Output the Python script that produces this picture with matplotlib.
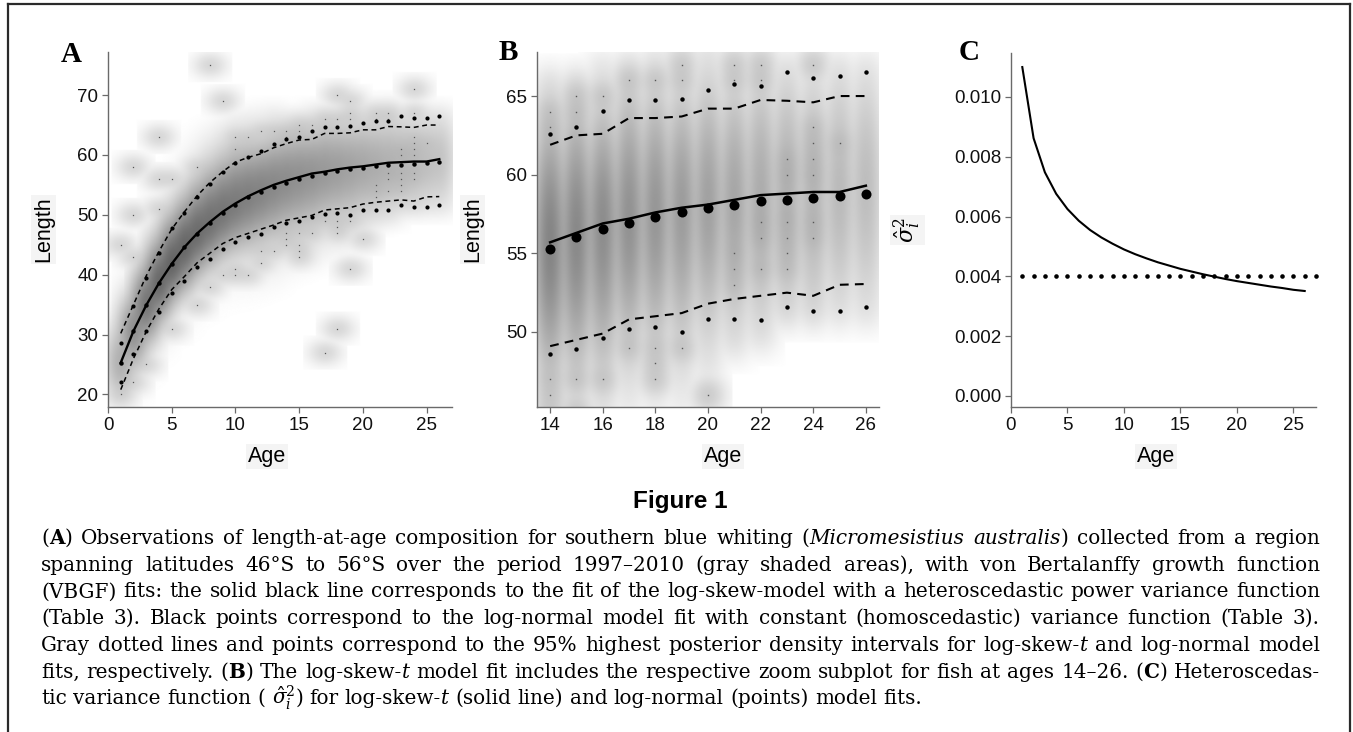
import re
import numpy as np
import matplotlib
matplotlib.use("Agg")
import matplotlib.pyplot as plt
from matplotlib.lines import Line2D

plt.rcParams['font.family'] = ['Liberation Sans', 'DejaVu Sans']
plt.rcParams['mathtext.fontset'] = 'dejavuserif'

# ---------------- data ----------------
ages = list(range(1, 27))
skewt_fit = [25.3, 30.6, 34.9, 38.6, 41.8, 44.6, 46.9, 48.8, 50.5, 51.9, 53.1, 54.1, 55.0,
             55.7, 56.3, 56.9, 57.2, 57.6, 57.9, 58.1, 58.4, 58.7, 58.8, 58.9, 58.9, 59.3]
skewt_lower = [20.8, 26.0, 30.5, 34.3, 37.5, 39.7, 42.0, 43.6, 45.2, 46.2, 46.9, 47.6, 48.3,
               49.1, 49.5, 49.9, 50.8, 51.0, 51.2, 51.8, 52.1, 52.3, 52.5, 52.3, 53.0, 53.05]
skewt_upper = [30.2, 35.0, 39.8, 43.9, 47.6, 50.5, 53.2, 55.4, 57.2, 58.8, 59.6, 60.2, 61.2,
               61.9, 62.5, 62.6, 63.6, 63.6, 63.7, 64.2, 64.2, 64.75, 64.7, 64.6, 65.0, 65.0]
lognorm_fit = [25.3, 30.6, 34.9, 38.6, 41.8, 44.6, 46.8, 48.7, 50.3, 51.7, 52.9, 53.8, 54.7,
               55.3, 56.05, 56.55, 56.95, 57.3, 57.6, 57.9, 58.1, 58.3, 58.4, 58.5, 58.65, 58.8]
lognorm_lower = [22.1, 26.7, 30.6, 33.7, 36.9, 38.9, 41.3, 42.7, 44.3, 45.4, 46.3, 46.8, 48.0,
                 48.6, 48.9, 49.6, 50.2, 50.3, 50.0, 50.8, 50.8, 50.75, 51.6, 51.35, 51.35, 51.6]
lognorm_upper = [28.6, 34.7, 39.5, 43.6, 47.8, 50.3, 52.9, 55.2, 57.1, 58.6, 59.7, 60.6, 61.9,
                 62.6, 63.05, 64.05, 64.75, 64.75, 64.8, 65.4, 65.75, 65.65, 66.55, 66.15, 66.25, 66.55]
fish_per_age = [50, 180, 420, 620, 700, 680, 600, 540, 480, 420, 370, 320, 280,
                240, 210, 180, 150, 125, 100, 80, 62, 48, 38, 30, 22, 18]
obs_min = [18, 20, 22, 25, 27, 29, 31, 33, 34, 35, 36, 37, 38,
           40, 41, 42, 43, 44, 45, 47, 49, 49.5, 51, 51, 51, 51]
obs_max = [40, 46, 51, 55, 58, 61, 63, 64, 65, 66, 66.5, 67, 67,
           66, 66, 67, 67, 67.5, 68, 68, 68, 68, 67, 67, 67, 67]

# isolated observations (drawn as tiny dots by the smoothed scatter)
outlier_age = [1, 1, 2, 2, 2, 2, 3, 4, 4, 4, 5, 5, 7, 7, 8, 8, 9, 9, 10, 10, 10, 10, 11, 11, 12, 12, 12, 13, 13,
               14, 14, 14, 14, 14, 15, 15, 15, 15, 15, 15, 16, 16, 17, 17, 17, 18, 18, 18, 18, 18, 18,
               19, 19, 19, 19, 19, 20, 21, 21, 21, 21, 21, 22, 22, 22, 22, 22, 23, 23, 23, 23, 23, 23,
               24, 24, 24, 24, 24, 24, 24, 24, 25]
outlier_length = [20, 45, 22, 43, 50, 58, 25, 51, 56, 63, 31, 56, 35, 58, 38, 75, 40, 69, 40, 41, 61, 63, 40, 63, 42, 44, 64, 44, 64,
                  45, 46, 47, 63, 64, 43, 44, 45, 47, 64, 65, 47, 65, 27, 49, 66, 31, 47, 48, 49, 66, 70,
                  41, 49, 66, 67, 69, 46, 53, 54, 55, 66, 67, 54, 56, 57, 66, 67, 54, 55, 56, 57, 60, 61,
                  56, 57, 60, 61, 62, 63, 67, 71, 62]

var_ages = list(range(1, 27))
var_skewt = [0.01100, 0.00862, 0.00748, 0.00676, 0.00625, 0.00586, 0.00555, 0.00530, 0.00509,
             0.00490, 0.00474, 0.00460, 0.00447, 0.00436, 0.00425, 0.00416, 0.00407, 0.00399,
             0.00391, 0.00384, 0.00378, 0.00372, 0.00366, 0.00361, 0.00355, 0.00351]
var_ln_ages = list(range(1, 28))
var_lognorm = [0.004] * 27

caption_lines = [
    "(«b|A») Observations of length-at-age composition for southern blue whiting («i|Micromesistius» «i|australis») collected from a region",
    "spanning latitudes 46°S to 56°S over the period 1997–2010 (gray shaded areas), with von Bertalanffy growth function",
    "(VBGF) fits: the solid black line corresponds to the fit of the log-skew-model with a heteroscedastic power variance function",
    "(Table 3). Black points correspond to the log-normal model fit with constant (homoscedastic) variance function (Table 3).",
    "Gray dotted lines and points correspond to the 95% highest posterior density intervals for log-skew-«i|t» and log-normal model",
    "fits, respectively. («b|B») The log-skew-«i|t» model fit includes the respective zoom subplot for fish at ages 14–26. («b|C») Heteroscedas-",
    "tic variance function ( «m|$\\hat{\\sigma}_i^2$») for log-skew-«i|t» (solid line) and log-normal (points) model fits.",
]

# ---------------- figure ----------------
W, H = 1353, 732
fig = plt.figure(figsize=(W / 100, H / 100), dpi=100)
fig.patch.set_facecolor('white')


def rect(l, r, t, b):
    return [l / W, 1 - b / H, (r - l) / W, (b - t) / H]


axA = fig.add_axes(rect(108, 452, 52, 407))
axB = fig.add_axes(rect(537, 879, 52, 407))
axC = fig.add_axes(rect(1011, 1316, 53, 407))


def style(ax):
    for s in ['top', 'right']:
        ax.spines[s].set_visible(False)
    for s in ['left', 'bottom']:
        ax.spines[s].set_color('#6a6a6a')
        ax.spines[s].set_linewidth(1.0)
    ax.tick_params(direction='out', length=4.1, width=0.9, color='#6a6a6a',
                   labelsize=13.5, pad=3, labelcolor='#111111')


def kern(s, d):
    h = int(np.ceil(3.4 * s / d))
    u = np.arange(-h, h + 1) * d
    k = np.exp(-0.5 * (u / s) ** 2)
    return k / k.sum()


def shade(ax, sel, sx, sy, x0, x1, y0, y1, dx, dy, dark):
    xg = np.arange(x0, x1 + dx / 2, dx)
    yg = np.arange(y0, y1 + dy / 2, dy)
    D = np.zeros((yg.size, xg.size))
    for a, n, c, lo, hi, mn, mx in zip(ages, fish_per_age, skewt_fit, skewt_lower,
                                       skewt_upper, obs_min, obs_max):
        if a not in sel:
            continue
        s_lo = (c - lo) / 1.96
        s_hi = (hi - c) / 1.96
        z = np.where(yg < c, (yg - c) / s_lo, (yg - c) / s_hi)
        f = np.exp(-0.5 * z * z)
        f[(yg < mn) | (yg > mx)] = 0
        f = n * f / f.sum()
        D[:, np.argmin(np.abs(xg - a))] += f
    for a, L in zip(outlier_age, outlier_length):
        if a not in sel:
            continue
        D[np.argmin(np.abs(yg - L)), np.argmin(np.abs(xg - a))] += 1
    ky = kern(sy, dy)
    kx = kern(sx, dx)
    D = np.apply_along_axis(lambda m: np.convolve(m, ky, mode='same'), 0, D)
    D = np.apply_along_axis(lambda m: np.convolve(m, kx, mode='same'), 1, D)
    D = np.clip(D, 0, None)
    G = 1 - dark * (D / D.max()) ** 0.25
    ax.imshow(G, cmap='gray', vmin=0, vmax=1, origin='lower',
              extent=[x0 - dx / 2, x1 + dx / 2, y0 - dy / 2, y1 + dy / 2],
              aspect='auto', interpolation='bilinear', zorder=0)


lab_box = dict(facecolor='#f4f4f4', edgecolor='none', pad=1.5)
label_top = 446   # pixel row of the top of the "Age" labels

# ---- Panel A ----
style(axA)
shade(axA, ages, 0.5, 0.8, -1, 28, 14, 80, 0.05, 0.1, 0.6)
axA.plot(outlier_age, outlier_length, 's', color='#555555', ms=0.9, mew=0, zorder=1)
axA.plot(ages, skewt_fit, '-', color='black', lw=1.7, zorder=3)
axA.plot(ages, skewt_upper, '--', color='black', lw=1.1, dashes=(3.2, 2.4), zorder=3)
axA.plot(ages, skewt_lower, '--', color='black', lw=1.1, dashes=(3.2, 2.4), zorder=3)
axA.plot(ages, lognorm_fit, 'o', color='black', ms=3.2, mew=0, zorder=4)
axA.plot(ages, lognorm_upper, 'o', color='black', ms=3.0, mew=0, zorder=4)
axA.plot(ages, lognorm_lower, 'o', color='black', ms=3.0, mew=0, zorder=4)
axA.set_xlim(0, 27)
axA.set_ylim(17.9, 77.2)
axA.set_xticks([0, 5, 10, 15, 20, 25])
axA.set_yticks([20, 30, 40, 50, 60, 70])
axA.set_xlabel('Age', fontsize=15.5, bbox=lab_box)
axA.set_ylabel('Length', fontsize=15.5, bbox=lab_box)
axA.xaxis.set_label_coords((267 - 108) / (452 - 108), -(label_top - 407) / (407 - 52))
axA.yaxis.set_label_coords(-(108 - 54) / (452 - 108), 0.5)

# ---- Panel B ----
style(axB)
selB = list(range(14, 27))
shade(axB, selB, 0.27, 0.5, 12.5, 27.5, 43, 70, 0.02, 0.05, 0.48)
axB.plot(outlier_age, outlier_length, 's', color='#555555', ms=1.0, mew=0, zorder=1)
axB.plot(ages[13:], skewt_fit[13:], '-', color='black', lw=1.8, zorder=3)
axB.plot(ages[13:], skewt_upper[13:], '--', color='black', lw=1.5, dashes=(4.2, 3.0), zorder=3)
axB.plot(ages[13:], skewt_lower[13:], '--', color='black', lw=1.5, dashes=(4.2, 3.0), zorder=3)
axB.plot(ages[13:], lognorm_fit[13:], 'o', color='black', ms=7.2, mew=0, zorder=4)
axB.plot(ages[13:], lognorm_upper[13:], 'o', color='black', ms=3.2, mew=0, zorder=4)
axB.plot(ages[13:], lognorm_lower[13:], 'o', color='black', ms=3.2, mew=0, zorder=4)
axB.set_xlim(13.5, 26.5)
axB.set_ylim(45.23, 67.8)
axB.set_xticks([14, 16, 18, 20, 22, 24, 26])
axB.set_yticks([50, 55, 60, 65])
axB.set_xlabel('Age', fontsize=15.5, bbox=lab_box)
axB.set_ylabel('Length', fontsize=15.5, bbox=lab_box)
axB.xaxis.set_label_coords((723 - 537) / (879 - 537), -(label_top - 407) / (407 - 52))
axB.yaxis.set_label_coords(-(537 - 483) / (879 - 537), 0.5)

# ---- Panel C ----
style(axC)
axC.plot(var_ages, var_skewt, '-', color='black', lw=1.5, zorder=3)
axC.plot(var_ln_ages, var_lognorm, 'o', color='black', ms=3.3, mew=0, zorder=4, clip_on=False)
axC.set_xlim(0, 27)
axC.set_ylim(-0.00037, 0.01147)
axC.set_xticks([0, 5, 10, 15, 20, 25])
axC.set_yticks([0.000, 0.002, 0.004, 0.006, 0.008, 0.010])
axC.set_yticklabels(['0.000', '0.002', '0.004', '0.006', '0.008', '0.010'])
axC.set_xlabel('Age', fontsize=15.5, bbox=lab_box)
axC.set_ylabel(r'$\hat{\sigma}_i^2$', fontsize=16, bbox=lab_box)
axC.xaxis.set_label_coords((1156 - 1011) / (1316 - 1011), -(label_top - 407) / (407 - 53))
axC.yaxis.set_label_coords(-(1011 - 923) / (1316 - 1011), 0.5)

# ---- panel letters ----
for letter, xc, yc in [('A', 71.5, 55), ('B', 508, 52), ('C', 969, 53)]:
    fig.text(xc / W, 1 - yc / H, letter, ha='center', va='center', fontsize=21,
             fontweight='bold', family=['Liberation Serif', 'DejaVu Serif'])

# ---- figure title ----
fig.text(680 / W, 1 - 508 / H, 'Figure 1', ha='center', va='baseline', fontsize=17.5,
         fontweight='bold', family=['Liberation Sans', 'DejaVu Sans'])

# ---- caption (justified) ----
renderer = fig.canvas.get_renderer()
tok = re.compile(r'«([bim])\|(.*?)»')
cap_family = ['DejaVu Serif']


def parse_word(w):
    runs = []
    pos = 0
    for m in tok.finditer(w):
        if m.start() > pos:
            runs.append((w[pos:m.start()], 'n'))
        runs.append((m.group(2), m.group(1)))
        pos = m.end()
    if pos < len(w):
        runs.append((w[pos:], 'n'))
    return runs


def make_text(s, kind, size):
    kw = dict(fontsize=size, family=cap_family, va='baseline', ha='left')
    if kind == 'b':
        kw['fontweight'] = 'bold'
    elif kind == 'i':
        kw['fontstyle'] = 'italic'
    return fig.text(0, 0, s, **kw)


def width(t):
    return t.get_window_extent(renderer).width


def layout_line(line, size):
    placed = []
    total = 0.0
    for w in line.split(' '):
        arts = []
        ww = 0.0
        for s, kind in parse_word(w):
            t = make_text(s, kind, size)
            arts.append((t, ww))
            ww += width(t)
        placed.append((arts, ww))
        total += ww
    return placed, total


def space_width(size):
    a = make_text('x x', 'n', size)
    b = make_text('xx', 'n', size)
    sw = width(a) - width(b)
    a.remove()
    b.remove()
    return sw


left, right = 41.0, 1320.0
base = 10.0
sw0 = space_width(base)
nat = []
for line in caption_lines:
    placed, total = layout_line(line, base)
    nat.append(total + sw0 * (len(placed) - 1))
    for arts, _ in placed:
        for t, _o in arts:
            t.remove()
cap_size = base * (right - left - 6) / max(nat)

sw = space_width(cap_size)
for i, line in enumerate(caption_lines):
    placed, total = layout_line(line, cap_size)
    last = (i == len(caption_lines) - 1)
    gap = sw if last else (right - left - total) / (len(placed) - 1)
    x = left
    ybase = 1 - (544 + 26.7 * i) / H
    for arts, ww in placed:
        for t, off in arts:
            t.set_position(((x + off) / W, ybase))
        x += ww + gap

# ---- outer frame ----
frame_kw = dict(color='#2a2a2a', lw=1.6, transform=fig.transFigure)
fig.add_artist(Line2D([8 / W, 8 / W], [0, 1 - 4 / H], **frame_kw))
fig.add_artist(Line2D([8 / W, 1350 / W], [1 - 4 / H, 1 - 4 / H], **frame_kw))
fig.add_artist(Line2D([1350 / W, 1350 / W], [0, 1 - 4 / H], **frame_kw))

fig.savefig('out.png', dpi=100)
